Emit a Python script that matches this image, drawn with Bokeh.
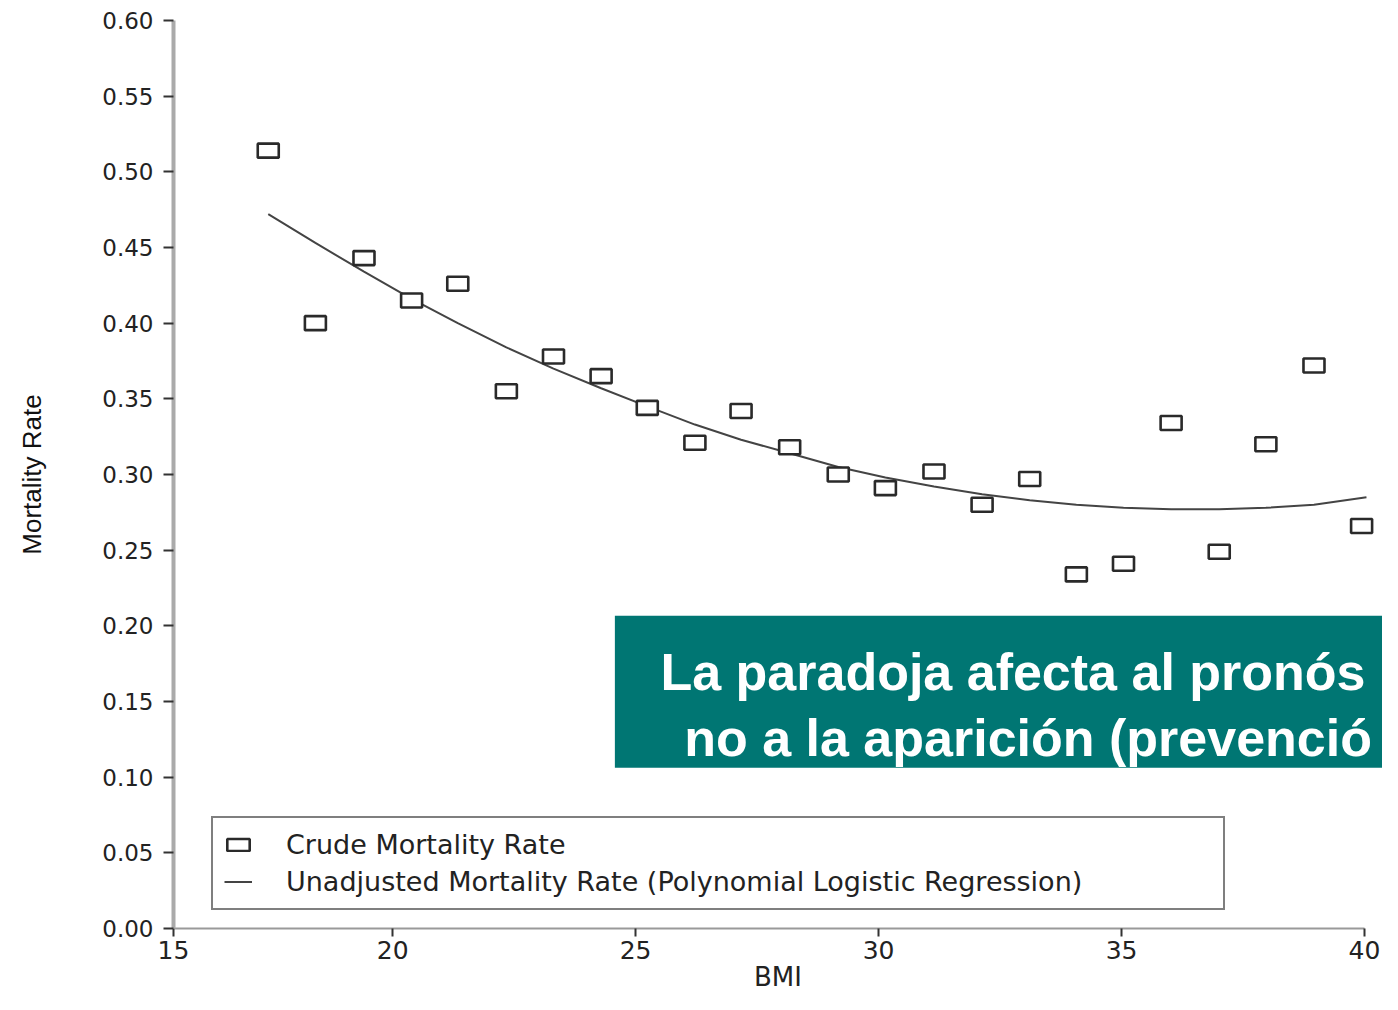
from bokeh.plotting import figure
from bokeh.models import (Range1d, FixedTicker, Legend, LegendItem, BoxAnnotation,
                          Label, PrintfTickFormatter, ColumnDataSource)
from bokeh.embed import file_html
from bokeh.resources import INLINE

# ---- data ----
bmi = [17.44, 18.41, 19.41, 20.39, 21.34, 22.34, 23.31, 24.29, 25.24, 26.22,
       27.17, 28.17, 29.17, 30.14, 31.14, 32.13, 33.11, 34.07, 35.04, 36.02,
       37.01, 37.97, 38.96, 39.94]
crude_rate = [0.514, 0.400, 0.443, 0.415, 0.426, 0.355, 0.378, 0.365, 0.344, 0.321,
              0.342, 0.318, 0.300, 0.291, 0.302, 0.280, 0.297, 0.234, 0.241, 0.334,
              0.249, 0.320, 0.372, 0.266]
fit_bmi = [17.44, 18.41, 19.41, 20.39, 21.34, 22.34, 23.31, 24.29, 25.24, 26.22,
           27.17, 28.17, 29.17, 30.14, 31.14, 32.13, 33.11, 34.07, 35.04, 36.02,
           37.01, 37.97, 38.96, 40.04]
fit_rate = [0.472, 0.453, 0.434, 0.416, 0.400, 0.384, 0.370, 0.357, 0.345, 0.333,
            0.323, 0.314, 0.305, 0.298, 0.292, 0.287, 0.283, 0.280, 0.278, 0.277,
            0.277, 0.278, 0.280, 0.285]
x_ticks = [15.49, 20, 25, 30, 35, 40]
x_tick_labels = ["15", "20", "25", "30", "35", "40"]
y_ticks = [0.00, 0.05, 0.10, 0.15, 0.20, 0.25, 0.30, 0.35, 0.40, 0.45, 0.50, 0.55, 0.60]

pts = ColumnDataSource(dict(x=bmi, y=crude_rate))
fit = ColumnDataSource(dict(x=fit_bmi, y=fit_rate))

p = figure(width=1382, height=994, output_backend="svg", toolbar_location=None,
           x_range=Range1d(15.49, 40.37), y_range=Range1d(0, 0.60),
           min_border_left=173, min_border_right=0, min_border_top=20,
           min_border_bottom=60)
p.outline_line_color = None
p.grid.visible = False
p.background_fill_color = "white"
p.border_fill_color = "white"

r_fit = p.line("x", "y", source=fit, line_color="#444444", line_width=2)
r_pts = p.rect("x", "y", width=21, height=14, width_units="screen", height_units="screen",
               source=pts, fill_color="white", line_color="#2a2a2a", line_width=2.6)

# axes
xa = p.xaxis[0]
xa.ticker = FixedTicker(ticks=x_ticks)
xa.major_label_overrides = {t: l for t, l in zip(x_ticks, x_tick_labels)}
xa.bounds = (15.49, 40)
xa.axis_line_color = "#999999"
xa.axis_line_width = 2
xa.major_tick_line_color = "#333333"
xa.major_tick_line_width = 2
xa.major_tick_out = 8
xa.major_tick_in = 0
xa.minor_tick_line_color = None
xa.major_label_standoff = 4
xa.major_label_text_font = "DejaVu Sans"
xa.major_label_text_font_size = "25px"
xa.major_label_text_color = "#222222"
xa.axis_label = "BMI"
xa.axis_label_text_font = "DejaVu Sans"
xa.axis_label_text_font_size = "26px"
xa.axis_label_text_font_style = "normal"
xa.axis_label_text_color = "#222222"
xa.axis_label_standoff = 0

ya = p.yaxis[0]
ya.ticker = FixedTicker(ticks=y_ticks)
ya.formatter = PrintfTickFormatter(format="%.2f")
ya.axis_line_color = "#aaaaaa"
ya.axis_line_width = 4
ya.major_tick_line_color = "#333333"
ya.major_tick_line_width = 2
ya.major_tick_out = 10
ya.major_tick_in = 0
ya.minor_tick_line_color = None
ya.major_label_standoff = 10
ya.major_label_text_font = "DejaVu Sans"
ya.major_label_text_font_size = "23px"
ya.major_label_text_color = "#222222"
ya.axis_label = "Mortality Rate"
ya.axis_label_text_font = "Liberation Sans"
ya.axis_label_text_font_size = "26px"
ya.axis_label_text_font_style = "normal"
ya.axis_label_text_color = "#111111"
ya.axis_label_standoff = 52

legend = Legend(items=[
    LegendItem(label="Crude Mortality Rate", renderers=[r_pts]),
    LegendItem(label="Unadjusted Mortality Rate (Polynomial Logistic Regression)", renderers=[r_fit]),
], location=(38, 18))
legend.border_line_color = "black"
legend.border_line_width = 2.5
legend.background_fill_color = "white"
legend.background_fill_alpha = 1.0
legend.label_text_font = "DejaVu Sans"
legend.label_text_font_size = "27px"
legend.label_text_color = "#222222"
legend.glyph_width = 28
legend.glyph_height = 15
legend.label_standoff = 34
legend.label_width = 926
legend.padding = 11
legend.spacing = 6
legend.margin = 0
p.add_layout(legend)

# teal note box
p.add_layout(BoxAnnotation(left=24.573, right=42, bottom=0.1062, top=0.2066,
                           fill_color="#007673", fill_alpha=1.0, line_color=None))
p.add_layout(Label(x=25.51, y=0.1692, text="La paradoja afecta al pronós",
                   text_font="Liberation Sans", text_font_style="bold",
                   text_font_size="52px", text_color="white", text_baseline="alphabetic"))
p.add_layout(Label(x=26.0, y=0.1259, text="no a la aparición (prevenció",
                   text_font="Liberation Sans", text_font_style="bold",
                   text_font_size="52px", text_color="white", text_baseline="alphabetic"))

open("out.html", "w").write(file_html(p, INLINE))
